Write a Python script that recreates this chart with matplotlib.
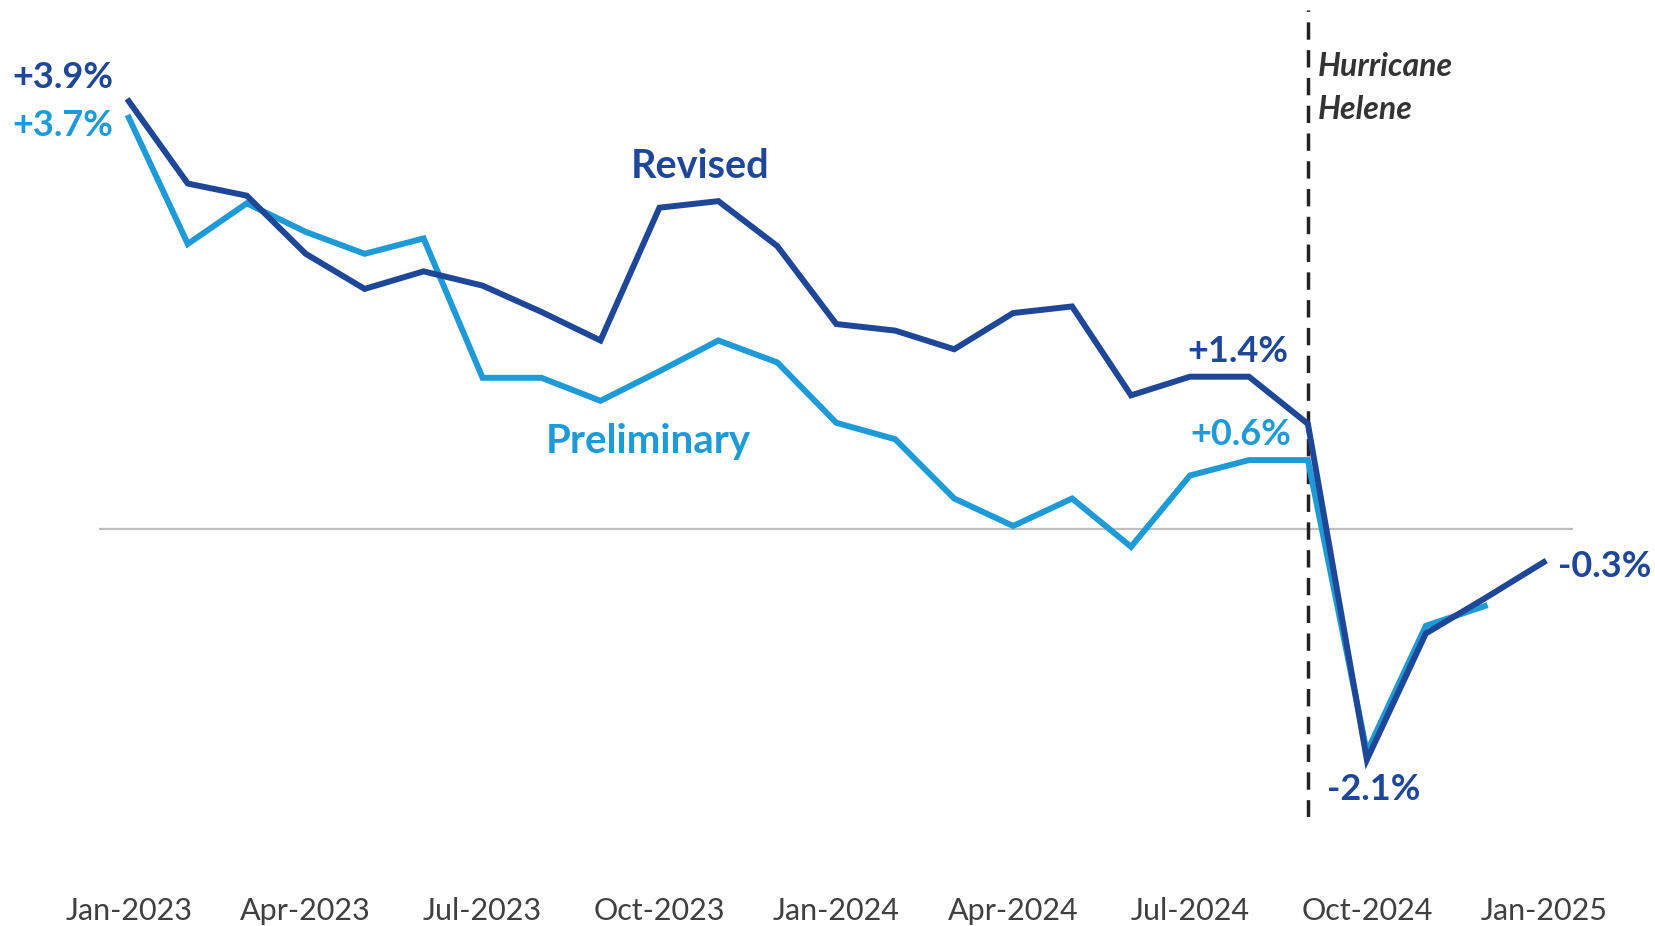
import numpy as np
import matplotlib.pyplot as plt

plt.rcParams['font.family'] = ['Lato', 'DejaVu Sans']

# monthly values, Jan-2023 .. Jan-2025 (percent)
months = ['Jan-2023', 'Feb-2023', 'Mar-2023', 'Apr-2023', 'May-2023', 'Jun-2023',
          'Jul-2023', 'Aug-2023', 'Sep-2023', 'Oct-2023', 'Nov-2023', 'Dec-2023',
          'Jan-2024', 'Feb-2024', 'Mar-2024', 'Apr-2024', 'May-2024', 'Jun-2024',
          'Jul-2024', 'Aug-2024', 'Sep-2024', 'Oct-2024', 'Nov-2024', 'Dec-2024',
          'Jan-2025']
revised = [3.9, 3.15, 3.04, 2.51, 2.19, 2.35, 2.22, 1.98, 1.72, 2.93, 2.99, 2.58,
           1.87, 1.81, 1.64, 1.97, 2.03, 1.22, 1.39, 1.39, 0.96, -2.1, -0.95, -0.63,
           -0.3]
preliminary = [3.75, 2.60, 2.97, 2.71, 2.51, 2.65, 1.38, 1.38, 1.17, 1.44, 1.72, 1.52,
               0.97, 0.82, 0.28, 0.03, 0.28, -0.16, 0.49, 0.63, 0.63, -2.03, -0.88, -0.70]
tick_idx = [0, 3, 6, 9, 12, 15, 18, 21, 24]
event_idx = 20  # Sep-2024

c_rev = '#1F4798'
c_pre = '#1E9BD7'

fig = plt.figure(figsize=(16.56, 9.26), dpi=100)
ax = fig.add_axes([0.060, 0.118, 0.890, 0.871])

x_rev = np.arange(len(revised))
x_pre = np.arange(len(preliminary))

ax.axhline(0, color='#BFBFBF', lw=1.6, zorder=1)
ax.plot(x_pre, preliminary, color=c_pre, lw=4.3, solid_joinstyle='miter', zorder=3)
ax.plot(x_rev, revised, color=c_rev, lw=4.3, solid_joinstyle='miter', zorder=4)
ax.axvline(event_idx, color='#222222', lw=2.5, dashes=(5, 3), zorder=2)

ax.set_xlim(-0.5, 24.5)
ax.set_ylim(-2.62, 4.73)

ax.set_xticks(tick_idx)
ax.set_xticklabels([months[i] for i in tick_idx], fontsize=22, color='#404040')
ax.tick_params(axis='x', length=0, pad=58)
ax.set_yticks([])
for s in ax.spines.values():
    s.set_visible(False)

# labels
bold = dict(fontsize=26, fontweight='bold')
ax.text(-0.27, revised[0] + 0.22, '+3.9%', color=c_rev, ha='right', va='center', **bold)
ax.text(-0.27, preliminary[0] - 0.07, '+3.7%', color=c_pre, ha='right', va='center', **bold)
ax.text(9.69, 3.31, 'Revised', color=c_rev, ha='center', va='center', fontsize=28.5, fontweight='bold')
ax.text(8.81, 0.80, 'Preliminary', color=c_pre, ha='center', va='center', fontsize=29, fontweight='bold')
ax.text(18.81, revised[19] + 0.23, '+1.4%', color=c_rev, ha='center', va='center', **bold)
ax.text(18.86, preliminary[19] + 0.23, '+0.6%', color=c_pre, ha='center', va='center', **bold)
ax.text(21.12, revised[21] - 0.27, '-2.1%', color=c_rev, ha='center', va='center', **bold)
ax.text(24.25, revised[24] - 0.04, '-0.3%', color=c_rev, ha='left', va='center', **bold)
ax.text(event_idx + 0.17, 4.02, 'Hurricane\nHelene', color='#333333', ha='left', va='center',
        fontsize=23, fontstyle='italic', fontweight='bold', linespacing=1.6)

fig.savefig('out.png', dpi=100)
